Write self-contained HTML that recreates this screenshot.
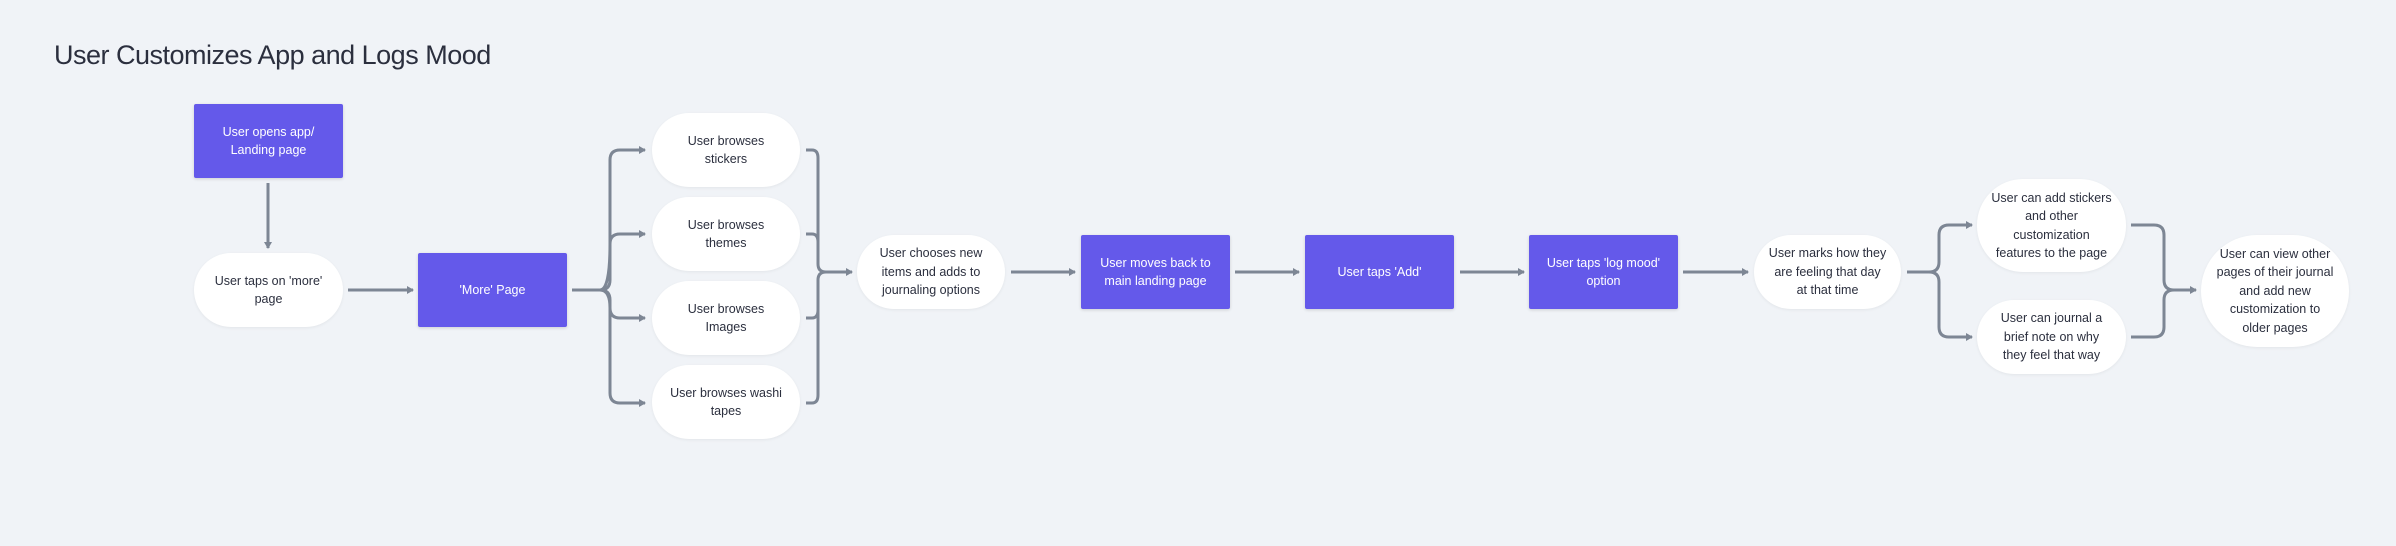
<!DOCTYPE html>
<html><head><meta charset="utf-8"><style>
body{margin:0;width:2396px;height:546px;background:#f0f3f7;position:relative;overflow:hidden;font-family:"Liberation Sans",sans-serif;}
.t{position:absolute;left:54px;top:40px;font-size:27px;color:#2b2f3e;letter-spacing:-0.5px;}
.n{position:absolute;display:flex;align-items:center;justify-content:center;text-align:center;font-size:12.5px;line-height:18.5px;box-sizing:border-box;padding:0 4px;white-space:nowrap;}
.b{background:#6459ea;color:#fff;box-shadow:0 1px 3px rgba(0,0,0,.15);border-radius:2px;}
.p{background:#fff;color:#2b2f3e;border-radius:37px;box-shadow:0 1px 3px rgba(0,0,0,.06);}
svg{position:absolute;left:0;top:0;}
</style></head><body>
<div class="t">User Customizes App and Logs Mood</div>
<svg width="2396" height="546" fill="none" stroke="#7d8694" stroke-width="3">
<defs><marker id="a" markerWidth="8" markerHeight="8" refX="6" refY="4" orient="auto" markerUnits="userSpaceOnUse"><path d="M0,0 L7,4 L0,8 z" fill="#7d8694" stroke="none"/></marker></defs>
<path d="M268 183 V248" marker-end="url(#a)"/>
<path d="M348 290 H413" marker-end="url(#a)"/>
<path d="M572 290 H600 Q610 290 610 280 V160 Q610 150 620 150 H645" marker-end="url(#a)"/>
<path d="M600 290 Q610 290 610 244 Q610 234 620 234 H645" marker-end="url(#a)"/>
<path d="M600 290 Q610 290 610 308 Q610 318 620 318 H645" marker-end="url(#a)"/>
<path d="M600 290 Q610 290 610 300 V393 Q610 403 620 403 H645" marker-end="url(#a)"/>
<path d="M806 150 H812 Q818 150 818 158 V264 Q818 272 826 272 H852" marker-end="url(#a)"/>
<path d="M806 234 H812 Q818 234 818 242"/>
<path d="M806 318 H812 Q818 318 818 310"/>
<path d="M806 403 H812 Q818 403 818 395 V280 Q818 272 826 272"/>
<path d="M1011 272 H1075" marker-end="url(#a)"/>
<path d="M1235 272 H1299" marker-end="url(#a)"/>
<path d="M1460 272 H1524" marker-end="url(#a)"/>
<path d="M1683 272 H1748" marker-end="url(#a)"/>
<path d="M1907 272 H1929 Q1939 272 1939 262 V235 Q1939 225 1949 225 H1972" marker-end="url(#a)"/>
<path d="M1929 272 Q1939 272 1939 282 V327 Q1939 337 1949 337 H1972" marker-end="url(#a)"/>
<path d="M2131 225 H2154 Q2164 225 2164 235 V280 Q2164 290 2174 290 H2196" marker-end="url(#a)"/>
<path d="M2131 337 H2154 Q2164 337 2164 327 V300 Q2164 290 2174 290"/>
</svg>
<div class="n b" style="left:194px;top:104px;width:149px;height:74px">User opens app/<br>Landing page</div>
<div class="n p" style="left:194px;top:253px;width:149px;height:74px">User taps on 'more'<br>page</div>
<div class="n b" style="left:418px;top:253px;width:149px;height:74px">'More' Page</div>
<div class="n p" style="left:652px;top:113px;width:148px;height:74px">User browses<br>stickers</div>
<div class="n p" style="left:652px;top:197px;width:148px;height:74px">User browses<br>themes</div>
<div class="n p" style="left:652px;top:281px;width:148px;height:74px">User browses<br>Images</div>
<div class="n p" style="left:652px;top:365px;width:148px;height:74px">User browses washi<br>tapes</div>
<div class="n p" style="left:857px;top:235px;width:148px;height:74px">User chooses new<br>items and adds to<br>journaling options</div>
<div class="n b" style="left:1081px;top:235px;width:149px;height:74px">User moves back to<br>main landing page</div>
<div class="n b" style="left:1305px;top:235px;width:149px;height:74px">User taps 'Add'</div>
<div class="n b" style="left:1529px;top:235px;width:149px;height:74px">User taps 'log mood'<br>option</div>
<div class="n p" style="left:1754px;top:235px;width:147px;height:74px">User marks how they<br>are feeling that day<br>at that time</div>
<div class="n p" style="left:1977px;top:179px;width:149px;height:93px;border-radius:46px">User can add stickers<br>and other<br>customization<br>features to the page</div>
<div class="n p" style="left:1977px;top:300px;width:149px;height:74px">User can journal a<br>brief note on why<br>they feel that way</div>
<div class="n p" style="left:2201px;top:235px;width:148px;height:112px;border-radius:56px">User can view other<br>pages of their journal<br>and add new<br>customization to<br>older pages</div>
</body></html>
